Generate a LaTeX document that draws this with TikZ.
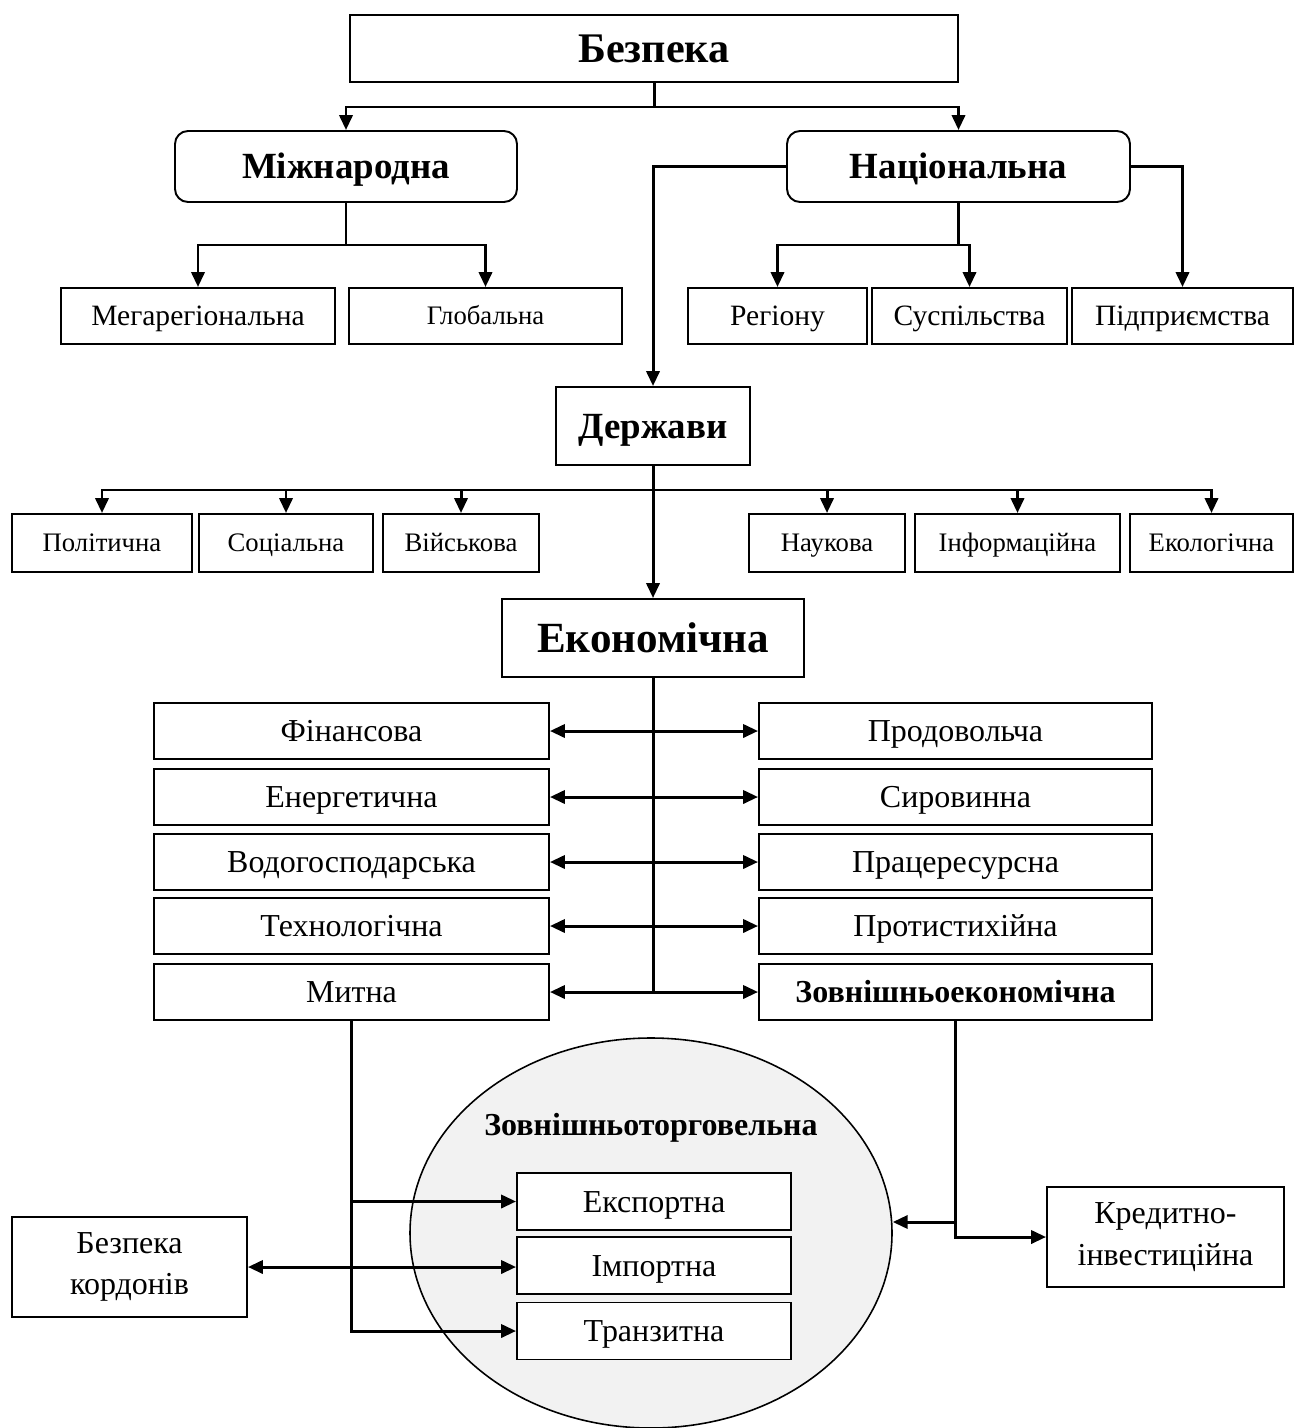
\documentclass[tikz,border=0pt]{standalone}
\usepackage{fontspec}
\setmainfont{Liberation Serif}
\usetikzlibrary{arrows.meta,shapes.geometric}
\newcommand\fsTop{\fontsize{24}{28}\selectfont\bfseries}
\newcommand\fsHead{\fontsize{21}{25}\selectfont\bfseries}
\newcommand\fsEkon{\fontsize{24.5}{28}\selectfont\bfseries}
\newcommand\fsMid{\fontsize{16.8}{20}\selectfont}
\newcommand\fsSmall{\fontsize{15.2}{18}\selectfont}
\newcommand\fsBig{\fontsize{18.2}{23.5}\selectfont}
\newcommand\fsBigB{\fontsize{18.2}{22}\selectfont\bfseries}
\definecolor{oval_gray}{RGB}{242,242,242}

\begin{document}
\begin{tikzpicture}[->,x=0.2mm,y=-0.2mm,line width=1.7pt,
    >={Triangle[length=8.5pt,width=7.5pt]},
    wh/.style 2 args={minimum width=#1*0.2mm,minimum height=#2*0.2mm},
    fTop/.style={font=\fsTop,text height=15.8pt},
    fHead/.style={font=\fsHead,text height=13.9pt},
    fEkon/.style={font=\fsEkon,text height=16.2pt},
    fMid/.style={font=\fsMid,text height=11.1pt},
    fSmall/.style={font=\fsSmall,text height=10pt},
    fBig/.style={font=\fsBig,text height=12pt},
    fBigB/.style={font=\fsBigB,text height=12pt}]
    \tikzstyle{box}=[draw,rectangle,line width=1.1pt,inner sep=0pt,align=center,text=black,fill=white,
                     text depth=0pt]
    \tikzstyle{rbox}=[style=box,rounded corners=2.6mm]
    \tikzstyle{twoline}=[draw,rectangle,line width=1.1pt,inner sep=0pt,align=center,text=black,font=\fsBig]
    \tikzstyle{oval}=[draw,ellipse,line width=0.9pt,fill=oval_gray,inner sep=0pt]
    \tikzstyle{lcol}=[style=box,wh={395}{56},fBig]
    \tikzstyle{rcol}=[style=box,wh={393}{56},fBig]
    \tikzstyle{trade}=[style=box,wh={274}{57},fBig]
    \tikzstyle{kind}=[style=box,fSmall]

    \useasboundingbox (0,0) rectangle (1295,1428);

    % levels
    \node[box,wh={608}{67},fTop]   (bez)   at (654,48.5)    {Безпека};
    \node[rbox,wh={342}{71},fHead] (mizh)  at (346,166.5)   {Міжнародна};
    \node[rbox,wh={343}{71},fHead] (nats)  at (958.5,166.5) {Національна};

    \node[box,wh={274}{56},fMid]  (mega)  at (198,316)     {Мегарегіональна};
    \node[kind,wh={273}{56}]      (glob)  at (485.5,316)   {Глобальна};
    \node[box,wh={179}{56},fMid]  (reg)   at (777.5,316)   {Регіону};
    \node[box,wh={195}{56},fMid]  (susp)  at (969.5,316)   {Суспільства};
    \node[box,wh={221}{56},fMid]  (pidp)  at (1182.5,316)  {Підприємства};

    \node[box,wh={194}{78},fHead] (derzh) at (653,426)     {Держави};

    \node[kind,wh={180}{58}]  (pol)   at (102,543)     {Політична};
    \node[kind,wh={174}{58}]  (soc)   at (286,543)     {Соціальна};
    \node[kind,wh={156}{58}]  (viysk) at (461,543)     {Військова};
    \node[kind,wh={156}{58}]  (nauk)  at (827,543)     {Наукова};
    \node[kind,wh={205}{58}]  (inf)   at (1017.5,543)  {Інформаційна};
    \node[kind,wh={163}{58}]  (ekol)  at (1211.5,543)  {Екологічна};

    \node[box,wh={302}{78},fEkon] (ekon) at (653,638) {Економічна};

    % economic kinds
    \node[lcol] (fin)   at (351.5,731) {Фінансова};
    \node[lcol] (energ) at (351.5,797) {Енергетична};
    \node[lcol] (vod)   at (351.5,862) {Водогосподарська};
    \node[lcol] (tech)  at (351.5,926) {Технологічна};
    \node[lcol] (mytna) at (351.5,992) {Митна};
    \node[rcol] (prod)  at (955.5,731) {Продовольча};
    \node[rcol] (syr)   at (955.5,797) {Сировинна};
    \node[rcol] (prac)  at (955.5,862) {Працересурсна};
    \node[rcol] (prot)  at (955.5,926) {Протистихійна};
    \node[rcol,fBigB] (zovn) at (955.5,992) {Зовнішньоекономічна};

    % foreign trade
    \node[oval,minimum width=482*0.2mm,minimum height=390*0.2mm] (zt) at (651,1233) {};
    \node[text=black,fBigB] (ztl) at (651,1128) {Зовнішньоторговельна};
    \node[trade] (eksp)  at (654,1201.5) {Експортна};
    \node[trade] (imp)   at (654,1265.5) {Імпортна};
    \node[trade] (tranz) at (654,1331)   {Транзитна};

    \node[twoline,wh={235}{100}] (kord) at (129.5,1267) {Безпека\\кордонів};
    \node[twoline,wh={237}{100}] (kred) at (1165.5,1237) {Кредитно-\\інвестиційна};

    \coordinate (yb) at (0,107);
    \coordinate (ym) at (0,245);
    \coordinate (yd) at (0,490);
    \coordinate (jz) at (955,1222);

    \draw[-] (bez.south) -- (bez.south |- yb) coordinate (jb);
    \draw (jb) -| (mizh.north);
    \draw (jb) -| (nats.north);
    \draw[-] (mizh.south) -- (mizh.south |- ym) coordinate (jm);
    \draw (jm) -| (mega.north);
    \draw (jm) -| (glob.north);
    \draw[-] (nats.south) -- (nats.south |- ym) coordinate (jn);
    \draw (jn) -| (reg.north);
    \draw (jn) -| (susp.north);
    \draw (nats.east) -| (pidp.north);
    \draw (nats.west) -| (derzh.north);

    \draw (derzh.south) -- (ekon.north);
    \coordinate (jd) at (derzh.south |- yd);
    \foreach \n in {pol,soc,viysk,nauk,inf,ekol}
      \draw (jd) -| (\n.north);

    \draw[-] (ekon.south) -- (ekon.south |- mytna.east);
    \foreach \l/\r in {fin/prod,energ/syr,vod/prac,tech/prot,mytna/zovn}
      \draw[<->] (\l.east) -- (\r.west);

    \draw (mytna.south) |- (eksp.west);
    \draw (mytna.south) |- (tranz.west);
    \draw[<->] (kord.east) -- (kord.east -| imp.west);

    \draw (zovn.south) |- (kred.west);
    \draw (jz) -- (jz -| zt.east);
\end{tikzpicture}
\end{document}
